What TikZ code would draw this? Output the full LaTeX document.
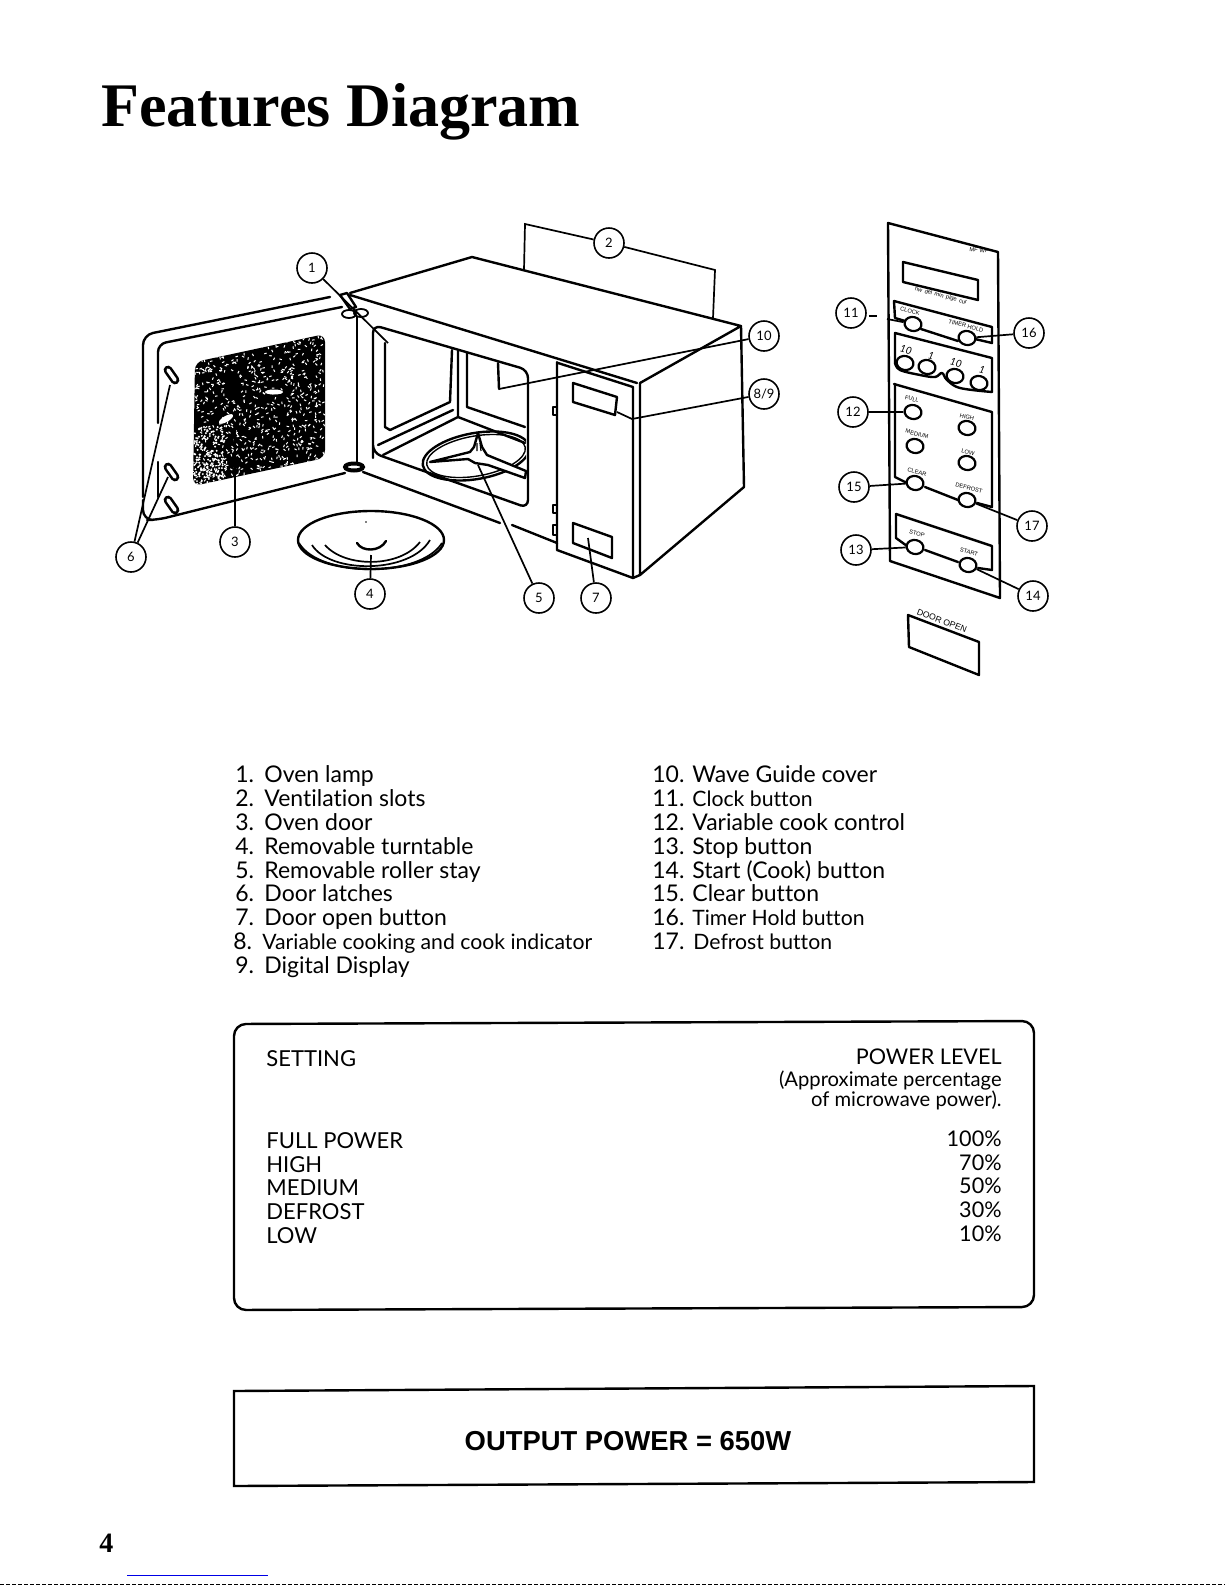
\documentclass[tikz,border=0pt]{standalone}
\usepackage{fontspec}
\usepackage{xcolor}
\usepackage{tikz}
\usetikzlibrary{shapes.geometric}
\setmainfont[Ligatures=NoCommon]{Lato}
\newfontfamily\titlefont{Liberation Serif}
\newfontfamily\headfont{Liberation Sans}
\definecolor{linkblue}{RGB}{0, 0, 230}

\begin{document}
\begin{tikzpicture}[x=0.5pt, y=-0.5pt,
  ln/.style={line width=1.2pt, line join=round, line cap=round},
  lead/.style={line width=0.85pt},
  num/.style={draw, circle, fill=white, line width=0.8pt, minimum size=15pt, inner sep=0pt, font=\fontsize{6.5}{7}\selectfont},
  btn/.style={draw, ellipse, fill=white, line width=1.1pt, minimum width=8.5pt, minimum height=7pt, inner sep=0pt, rotate=-12},
  lbl/.style={inner sep=0pt, rotate=-15, font=\headfont\fontsize{2.9}{3}\selectfont},
  dig/.style={lbl, font=\itshape\fontsize{5}{6}\selectfont},
  txt/.style={anchor=base west, inner sep=0pt, font=\fontsize{11.5}{13}\selectfont},
  nar/.style={txt, font=\fontsize{10.6}{13}\selectfont},
  set/.style={txt, font=\fontsize{11}{13}\selectfont},
  ent/.style={anchor=base east, inner sep=0pt, font=\fontsize{10.8}{13}\selectfont},
  sml/.style={anchor=base east, inner sep=0pt, font=\fontsize{10.1}{11}\selectfont},
  latch/.style={line width=4.4pt, line cap=round}]
  \useasboundingbox (0,0) rectangle (1225,1585);

  \node[anchor=base west, inner sep=0pt, font=\titlefont\bfseries\fontsize{31}{34}\selectfont] (title) at (101,126) {Features Diagram};

  % door
  \draw[ln, rounded corners=5pt] (330,297) -- (143,335) -- (143,497);
  \draw[ln, rounded corners=5pt] (143,500) -- (143,520) -- (157,520) -- (345,473);
  \draw[ln, rounded corners=4pt] (342,307) -- (158,344) -- (158,423);
  \draw[ln] (158,462) -- (158,497);
  \draw[ln] (357,317) -- (357,462);
  \draw[ln] (340,295) -- (347,293) -- (356,307) -- (350,309) -- cycle;
  \draw[ln, line width=0.9pt] (349,314) ellipse [x radius=7, y radius=4];
  \draw[ln, line width=0.9pt] (361,313) ellipse [x radius=7, y radius=4];
  \draw[line width=2pt, fill=white] (354,467) ellipse [x radius=9, y radius=3.5];
  \foreach \ly in {376,473,506} {
    \draw[latch] (168,\ly-6) -- (175,\ly+4);
    \draw[latch, white, line width=1.8pt] (168,\ly-6) -- (175,\ly+4);
  }

  % window
  \begin{scope}
    \clip[rounded corners=4pt] (195,362) -- (325,334) -- (325,458) -- (193,486) -- cycle;
    \fill[black] (190,330) rectangle (330,490);
    \pgfmathsetseed{4711}
    \foreach \n in {1,...,750} {
      \pgfmathsetmacro\ux{193+rnd*132}
      \pgfmathsetmacro\uy{334+rnd*152}
      \pgfmathsetmacro\ua{rnd*180}
      \draw[white, line width=0.5pt] (\ux,\uy) -- ++(\ua:2.5);
    }
    \foreach \n in {1,...,170} {
      \pgfmathsetmacro\ux{193+rnd*32}
      \pgfmathsetmacro\uy{425+rnd*60}
      \fill[white] (\ux,\uy) circle (1.1);
    }
    \fill[white] (274,392) ellipse [x radius=9, y radius=2.5];
    \fill[white] (226,419) ellipse [x radius=8, y radius=3, rotate=30];
  \end{scope}

  % oven body
  \draw[ln] (350,293) -- (472,257) -- (741,326) -- (640,383);
  \draw[ln] (350,295) -- (637,383);
  \draw[ln] (741,326) -- (744,487) -- (640,575) -- (640,383);
  \draw[ln] (558,363) -- (633,387) -- (633,578);
  \draw[ln] (557,362) -- (557,550) -- (633,578) -- (640,575);
  \draw[ln] (363,472) -- (500,523);
  \draw[ln] (512,525) -- (557,543);
  \draw[ln, rounded corners=4pt] (373,450) -- (373,325) -- (528,370) -- (528,508) -- (373,453) -- cycle;
  \draw[ln] (385,343) -- (385,427) -- (390,430) -- (450,402) -- (452,350);
  \draw[ln] (458,350) -- (458,417) -- (525,443);
  \draw[ln] (467,353) -- (467,407) -- (525,427);
  \draw[ln] (378,445) -- (453,410);
  \draw[ln] (383,455) -- (458,417);
  \draw[ln] (553,407) rectangle (557,415);
  \draw[ln] (553,505) rectangle (557,513);
  \draw[ln] (553,525) rectangle (557,535);
  \draw[ln] (573,383) -- (617,397) -- (615,415) -- (573,402) -- cycle;
  \draw[ln] (573,523) -- (612,537) -- (612,558) -- (573,543) -- cycle;
  \draw[ln] (498,363) -- (499,389);

  % turntable well and roller stay
  \begin{scope}
    \clip (415,420) rectangle (526,490);
    \draw[ln] (476,456) ellipse [x radius=54, y radius=23, rotate=10];
    \draw[line width=0.7pt] (476,456) ellipse [x radius=50, y radius=20, rotate=10];
  \end{scope}
  \draw[ln, fill=white] (478,433) -- (482,447) -- (487,455) -- (526,471) -- (525,478) -- (488,465) -- (475,463) -- (468,459) -- (430,462) -- (470,452) -- (474,447) -- cycle;
  \draw[line width=0.6pt] (477,443) -- (477,451) (480,443) -- (481,451);

  % removable plate
  \draw[ln] (371,540) ellipse [x radius=73, y radius=29];
  \draw[lead] (299,543) .. controls (320,578) and (420,578) .. (442,543);
  \draw[lead] (312,545) .. controls (330,574) and (410,574) .. (430,540);
  \draw[lead] (325,545) .. controls (345,568) and (400,568) .. (420,542);
  \draw[ln] (357,543) .. controls (362,552) and (380,552) .. (386,541);
  \fill (366,522) circle (0.8);

  % control panel
  \draw[ln] (888,223) -- (998,252) -- (1000,598) -- (890,561) -- cycle;
  \draw[ln] (903,262) -- (978,280) -- (978,300) -- (903,282) -- cycle;
  \draw[ln] (894,301) -- (992,327) -- (992,343) -- (975,339);
  \draw[ln] (894,301) -- (895,318) -- (905,321);
  \draw[ln] (921,329) -- (958,341);
  \draw[ln] (992,392) -- (992,358) -- (895,333) -- (895,363);
  \draw[ln] plot[smooth, tension=0.6] coordinates {(895,363) (900,370) (920,375) (935,377) (942,373) (947,380) (960,388) (992,392)};
  \draw[ln] (894,384) -- (992,412) -- (992,507) -- (977,503);
  \draw[ln] (895,384) -- (895,477) -- (907,483);
  \draw[ln] (925,487) -- (958,500);
  \draw[ln] (896,514) -- (992,546) -- (992,570) -- (978,568);
  \draw[ln] (896,514) -- (896,538) -- (907,546);
  \draw[ln] (925,550) -- (958,562);
  \draw[ln] (908,615) -- (979,642) -- (979,675) -- (909,647) -- cycle;

  \node[btn] (clock) at (913,324) {};
  \node[btn] (hold) at (967,338) {};
  \node[btn] (b1) at (905,363) {};
  \node[btn] (b2) at (927,367) {};
  \node[btn] (b3) at (955,376) {};
  \node[btn] (b4) at (979,383) {};
  \node[btn] (full) at (913,412) {};
  \node[btn] (high) at (967,428) {};
  \node[btn] (medium) at (915,446) {};
  \node[btn] (low) at (967,463) {};
  \node[btn] (clear) at (915,483) {};
  \node[btn] (defrost) at (967,500) {};
  \node[btn] (stop) at (915,547) {};
  \node[btn] (start) at (968,565) {};

  \node[lbl, rotate=10] (mw) at (979,250) {MF WF};
  \node[lbl] (dsp) at (941,296) {hw\, del\, min\, plge\, cur};
  \node[lbl] (lc) at (910,311) {CLOCK};
  \node[lbl] (lh) at (966,326) {TIMER HOLD};
  \node[dig] (l10a) at (906,350) {10};
  \node[dig] (l1a) at (931,356) {1};
  \node[dig] (l10b) at (956,363) {10};
  \node[dig] (l1b) at (982,370) {1};
  \node[lbl] (lf) at (912,399) {FULL};
  \node[lbl] (lg) at (967,417) {HIGH};
  \node[lbl] (lm) at (917,434) {MEDIUM};
  \node[lbl] (lo) at (968,452) {LOW};
  \node[lbl] (lr) at (917,472) {CLEAR};
  \node[lbl] (ld) at (969,488) {DEFROST};
  \node[lbl] (ls) at (917,534) {STOP};
  \node[lbl] (lt) at (969,552) {START};
  \node[lbl, rotate=-6, font=\headfont\fontsize{4.3}{5}\selectfont] (ldo) at (942,621) {DOOR OPEN};

  % callouts
  \node[num] (c1) at (312,268) {1};
  \node[num] (c2) at (609,243) {2};
  \node[num] (c3) at (235,542) {3};
  \node[num] (c4) at (370,594) {4};
  \node[num] (c5) at (539,598) {5};
  \node[num] (c6) at (131,557) {6};
  \node[num] (c7) at (596,598) {7};
  \node[num] (c89) at (764,394) {8/9};
  \node[num] (c10) at (764,336) {10};
  \node[num] (c11) at (851,313) {11};
  \node[num] (c12) at (853,412) {12};
  \node[num] (c13) at (856,550) {13};
  \node[num] (c14) at (1033,596) {14};
  \node[num] (c15) at (854,487) {15};
  \node[num] (c16) at (1029,333) {16};
  \node[num] (c17) at (1032,526) {17};

  \coordinate (lamp) at (388,343);
  \coordinate (slotl) at (524,270);
  \coordinate (slotr) at (713,318);
  \coordinate (glass) at (235,423);
  \coordinate (plate) at (371,555);
  \coordinate (roller) at (478,465);
  \coordinate (latcha) at (170,385);
  \coordinate (latchb) at (168,477);
  \coordinate (dooropen) at (588,538);
  \coordinate (disp) at (617,412);
  \coordinate (bend) at (632,419);
  \coordinate (guide) at (499,389);

  \draw[lead] (c1) -- (lamp);
  \draw[lead] (c2) -- (525,224) -- (slotl);
  \draw[lead] (c2) -- (715,270) -- (slotr);
  \draw[lead] (c3) -- (glass);
  \draw[lead] (c4) -- (plate);
  \draw[lead] (c5) -- (roller);
  \draw[lead] (c6) -- (latcha);
  \draw[lead] (c6) -- (latchb);
  \draw[lead] (c7) -- (dooropen);
  \draw[lead] (c89) -- (bend) -- (disp);
  \draw[lead] (c10) -- (guide);
  \draw[lead] (c11.east) ++(2,3) -- ++(8,0);
  \draw[lead] (887,319) -- (clock);
  \draw[lead] (c12) -- (full);
  \draw[lead] (c13) -- (stop);
  \draw[lead] (c14) -- (start);
  \draw[lead] (c15) -- (clear);
  \draw[lead] (c16) -- (hold);
  \draw[lead] (c17) -- (defrost);

  % parts list
  \node[txt] (n1) at (235,782) {1.};
  \node[txt] (n2) at (235,806) {2.};
  \node[txt] (n3) at (235,830) {3.};
  \node[txt] (n4) at (235,854) {4.};
  \node[txt] (n5) at (235,878) {5.};
  \node[txt] (n6) at (235,901) {6.};
  \node[txt] (n7) at (235,925) {7.};
  \node[txt] (n8) at (233,949) {8.};
  \node[txt] (n9) at (235,973) {9.};
  \node[txt] (t1) at (264,782) {Oven lamp};
  \node[txt] (t2) at (264,806) {Ventilation slots};
  \node[txt] (t3) at (264,830) {Oven door};
  \node[txt] (t4) at (264,854) {Removable turntable};
  \node[txt] (t5) at (264,878) {Removable roller stay};
  \node[txt] (t6) at (264,901) {Door latches};
  \node[txt] (t7) at (264,925) {Door open button};
  \node[nar] (t8) at (262,949) {Variable cooking and cook indicator};
  \node[txt] (t9) at (264,973) {Digital Display};
  \node[txt] (n10) at (652,782) {10.};
  \node[txt] (n11) at (652,806) {11.};
  \node[txt] (n12) at (652,830) {12.};
  \node[txt] (n13) at (652,854) {13.};
  \node[txt] (n14) at (652,878) {14.};
  \node[txt] (n15) at (652,901) {15.};
  \node[txt] (n16) at (652,925) {16.};
  \node[txt] (n17) at (652,949) {17.};
  \node[txt] (t10) at (692,782) {Wave Guide cover};
  \node[nar] (t11) at (692,806) {Clock button};
  \node[txt] (t12) at (692,830) {Variable cook control};
  \node[txt] (t13) at (692,854) {Stop button};
  \node[txt] (t14) at (692,878) {Start (Cook) button};
  \node[txt] (t15) at (692,901) {Clear button};
  \node[nar] (t16) at (692,925) {Timer Hold button};
  \node[nar] (t17) at (693,949) {Defrost button};

  % power table
  \draw[ln, rounded corners=6pt] (234,1024) -- (1034,1021) -- (1034,1307) -- (234,1310) -- cycle;
  \node[set] (st) at (266,1066) {SETTING};
  \node[ent] (lvl) at (1002,1064) {POWER LEVEL};
  \node[sml] (apx) at (1002,1086) {(Approximate percentage};
  \node[sml] (mic) at (1002,1106) {of microwave power).};
  \node[set] (s1) at (266,1148) {FULL POWER};
  \node[set] (s2) at (266,1172) {HIGH};
  \node[set] (s3) at (266,1195) {MEDIUM};
  \node[set] (s4) at (266,1219) {DEFROST};
  \node[set] (s5) at (266,1243) {LOW};
  \node[ent] (p1) at (1002,1146) {100\%};
  \node[ent] (p2) at (1002,1170) {70\%};
  \node[ent] (p3) at (1002,1193) {50\%};
  \node[ent] (p4) at (1002,1217) {30\%};
  \node[ent] (p5) at (1002,1241) {10\%};

  % output box
  \draw[line width=1.2pt] (234,1391) -- (1034,1386) -- (1034,1482) -- (234,1486) -- cycle;
  \node[inner sep=0pt, font=\headfont\bfseries\fontsize{13.7}{15}\selectfont] (out) at (628,1441) {OUTPUT POWER = 650W};

  \node[anchor=base west, inner sep=0pt, font=\titlefont\bfseries\fontsize{14}{16}\selectfont] (page) at (99,1552) {4};
  \draw[linkblue, line width=0.5pt] (127,1575.5) -- (268,1575.5);
  \draw[line width=0.7pt, dash pattern=on 2pt off 1pt] (0,1584.3) -- (1225,1584.3);
\end{tikzpicture}
\end{document}
